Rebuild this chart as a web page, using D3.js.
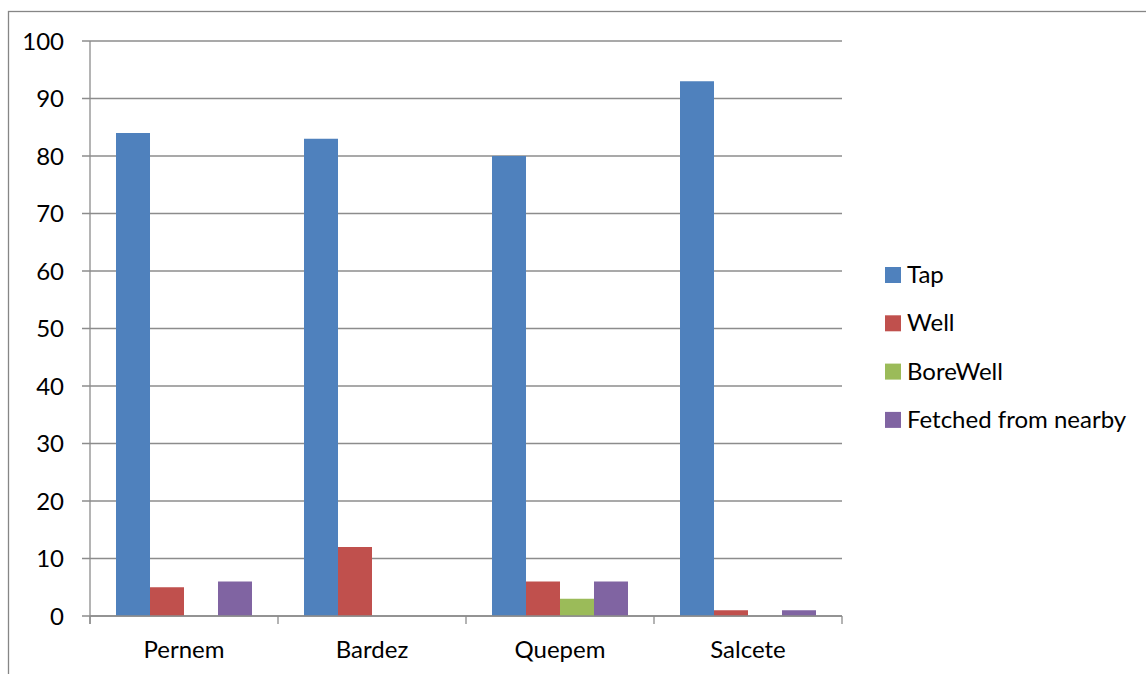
<!DOCTYPE html>
<html>
<head>
<meta charset="utf-8">
<script src="https://cdn.jsdelivr.net/npm/d3@7"></script>
<style>
  body { margin: 0; background: #fff; }
  text { font-family: Lato, "Open Sans", sans-serif; fill: #000; }
</style>
</head>
<body>
<script>
// water source by taluka
var talukas = ["Pernem", "Bardez", "Quepem", "Salcete"];
var series = ["Tap", "Well", "BoreWell", "Fetched from nearby"];
var tapVals = [84, 83, 80, 93];
var wellVals = [5, 12, 6, 1];
var boreVals = [0, 0, 3, 0];
var fetchedVals = [6, 0, 6, 1];
var yTicks = [0, 10, 20, 30, 40, 50, 60, 70, 80, 90, 100];
var colors = ["#4F81BD", "#C0504D", "#9BBB59", "#8064A2"];

var allVals = [tapVals, wellVals, boreVals, fetchedVals];

var outerWidth = 1146,
    outerHeight = 674;

var margin = { top: 41, left: 90 },
    width = 752,
    height = 575;

var svg = d3.select("body")
    .append("svg")
    .attr("width", outerWidth)
    .attr("height", outerHeight);

// chart border
svg.append("rect")
    .attr("x", 8.5)
    .attr("y", 11.5)
    .attr("width", 1300)
    .attr("height", 900)
    .style("fill", "none")
    .style("stroke", "#868686")
    .style("stroke-width", 1.3);

var g = svg.append("g")
    .attr("transform", "translate(" + margin.left + "," + margin.top + ")");

var x0 = d3.scaleBand()
    .domain(talukas)
    .range([0, width])
    .padding(0);

var x1 = d3.scaleBand()
    .domain(series)
    .range([0, x0.bandwidth()])
    .paddingInner(0)
    .paddingOuter(0.765);

var y = d3.scaleLinear()
    .domain([0, 100])
    .range([height, 0]);

var color = d3.scaleOrdinal()
    .domain(series)
    .range(colors);

// gridlines
g.selectAll(".grid")
    .data(yTicks)
    .enter()
    .append("line")
    .attr("class", "grid")
    .attr("x1", -8)
    .attr("x2", width)
    .attr("y1", function(d) { return y(d); })
    .attr("y2", function(d) { return y(d); })
    .style("stroke", "#8c8c8c")
    .style("stroke-width", 1.3);

// y labels
g.selectAll(".ylab")
    .data(yTicks)
    .enter()
    .append("text")
    .attr("class", "ylab")
    .attr("x", -26)
    .attr("y", function(d) { return y(d); })
    .attr("dy", "0.36em")
    .attr("text-anchor", "end")
    .attr("font-size", "24px")
    .text(function(d) { return d; });

// bars
var rows = [];
talukas.forEach(function(t, i) {
    series.forEach(function(s, j) {
        rows.push({ taluka: t, series: s, value: allVals[j][i] });
    });
});

g.selectAll(".bar")
    .data(rows)
    .enter()
    .append("rect")
    .attr("class", "bar")
    .attr("x", function(d) { return x0(d.taluka) + x1(d.series); })
    .attr("width", x1.bandwidth())
    .attr("y", function(d) { return y(d.value); })
    .attr("height", function(d) { return height - y(d.value); })
    .style("fill", function(d) { return color(d.series); });

// y axis line
g.append("line")
    .attr("x1", 0).attr("x2", 0)
    .attr("y1", 0).attr("y2", height + 8)
    .style("stroke", "#8c8c8c")
    .style("stroke-width", 1.3);

// x axis line + ticks
g.append("line")
    .attr("x1", 0).attr("x2", width)
    .attr("y1", height).attr("y2", height)
    .style("stroke", "#8c8c8c")
    .style("stroke-width", 1.3);

var xTickPos = talukas.map(function(t) { return x0(t); }).concat([width]);
g.selectAll(".xtick")
    .data(xTickPos)
    .enter()
    .append("line")
    .attr("class", "xtick")
    .attr("x1", function(d) { return d; })
    .attr("x2", function(d) { return d; })
    .attr("y1", height)
    .attr("y2", height + 8)
    .style("stroke", "#8c8c8c")
    .style("stroke-width", 1.3);

// x labels
g.selectAll(".xlab")
    .data(talukas)
    .enter()
    .append("text")
    .attr("class", "xlab")
    .attr("x", function(d) { return x0(d) + x0.bandwidth() / 2; })
    .attr("y", height + 42)
    .attr("text-anchor", "middle")
    .attr("font-size", "24px")
    .text(function(d) { return d; });

// legend
var legend = svg.selectAll(".legend")
    .data(series)
    .enter()
    .append("g")
    .attr("class", "legend")
    .attr("transform", function(d, i) { return "translate(885," + (267 + i * 48.3) + ")"; });

legend.append("rect")
    .attr("width", 16)
    .attr("height", 16)
    .style("fill", function(d) { return color(d); });

legend.append("text")
    .attr("x", 22)
    .attr("y", 16)
    .attr("font-size", "24px")
    .text(function(d) { return d; });
</script>
</body>
</html>
